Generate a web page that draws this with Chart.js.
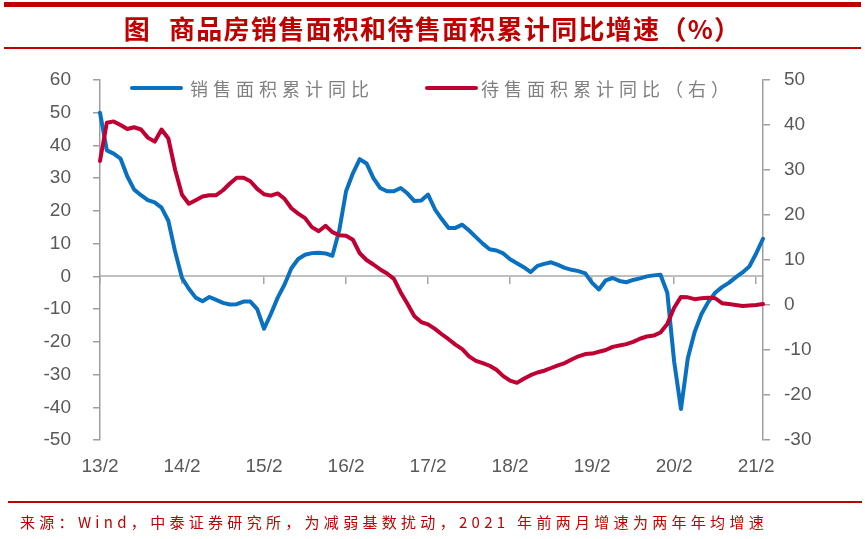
<!DOCTYPE html>
<html>
<head>
<meta charset="utf-8">
<script src="https://cdn.jsdelivr.net/npm/chart.js@4"></script>
<style>
  html, body { margin:0; padding:0; background:#fff; }
  #page { position:relative; width:865px; height:539px; overflow:hidden; background:#fff; }
  #chartBox { position:absolute; left:0; top:0; width:865px; height:539px; }
  .bar { position:absolute; background:#C00000; }
  #title { position:absolute; left:0; width:865px; top:11px; text-align:center; color:#C00000;
           font-family:"Noto Sans CJK SC", sans-serif; font-weight:bold; font-size:26px; letter-spacing:1.3px; line-height:34px; }
  #legend { position:absolute; top:76px; left:0; height:24px; font-family:"Noto Sans CJK SC", sans-serif; font-size:18px; color:#808080; letter-spacing:5px; }
  .lg { position:absolute; top:0; white-space:nowrap; line-height:24px; }
  .sw { position:absolute; height:4px; top:10px; border-radius:2px; }
  #footer { position:absolute; left:20px; top:511px; color:#C00000; font-family:"Noto Sans CJK SC", sans-serif; font-size:15px; letter-spacing:4.3px; white-space:nowrap; line-height:22px; }
</style>
</head>
<body>
<div id="page">
  <div id="chartBox"><canvas id="c"></canvas></div>
  <div class="bar" style="left:4px;top:2px;width:857px;height:5px;"></div>
  <div id="title">图<span style="display:inline-block;width:18px"></span>商品房销售面积和待售面积累计同比增速（%）</div>
  <div class="bar" style="left:4px;top:47px;width:857px;height:2px;"></div>
  <div id="legend"></div>
  <div class="bar" style="left:8px;top:501px;width:854px;height:1.5px;"></div>
  <div id="footer">来源：Wind，中泰证券研究所，为减弱基数扰动，2021 年前两月增速为两年年均增速</div>
</div>
<script>
// Monthly slots from 13/1 to 21/2 (98 slots); year ticks every 12 slots
const months = [];
for (let y = 13; y <= 21; y++) {
  for (let m = 1; m <= 12; m++) {
    if (y === 21 && m > 2) break;
    months.push(y + '/' + m);
  }
}
const tickLabels = ['13/2','14/2','15/2','16/2','17/2','18/2','19/2','20/2','21/2'];
const seriesNames = ['销售面积累计同比', '待售面积累计同比（右）'];

// 销售面积累计同比 (left axis, %)
const salesYoY = [
  50, 38.5, 37.5, 36, 30.5, 26.5, 24.8, 23.3, 22.6, 21, 17, 7.5,
  -0.5, -3.8, -6.5, -7.6, -6.3, -7.2, -8.1, -8.6, -8.5, -7.7, -7.7, -10,
  -16, -11.5, -6.5, -2.5, 2.5, 5.3, 6.6, 7.1, 7.2, 7.0, 6.3, 14,
  26, 31.5, 35.8, 34.5, 30, 27, 26, 26, 27, 25.3, 23, 23.2,
  25, 20.5, 17.5, 14.8, 14.8, 15.8, 14, 12, 10, 8.3, 7.9, 7.0,
  5.2, 4, 2.8, 1.3, 3.2, 3.8, 4.3, 3.5, 2.6, 2.0, 1.6, 0.9,
  -2, -4, -1.2, -0.5, -1.4, -1.8, -1.1, -0.6, 0, 0.3, 0.5, -5,
  -26, -40.5, -25, -17, -11.5, -7.8, -5, -3.3, -2, -0.3, 1.2, 3,
  7, 11.5
];
// 待售面积累计同比 (right axis, %)
const unsoldYoY = [
  32, 40.5, 40.8, 40, 39.1, 39.5, 39, 37.2, 36.3, 39, 37, 30,
  24.5, 22.5, 23.3, 24.1, 24.4, 24.4, 25.5, 27, 28.3, 28.3, 27.5, 25.8,
  24.6, 24.3, 24.8, 23.6, 21.5, 20.3, 19.3, 17.3, 16.4, 17.6, 16.2, 15.5,
  15.4, 14.5, 11.5, 10, 9, 7.9, 7, 5.8, 2.8, 0.2, -2.5, -3.8,
  -4.3, -5.3, -6.5, -7.6, -8.8, -9.8, -11.4, -12.4, -12.9, -13.5, -14.4, -15.8,
  -16.8, -17.3, -16.4, -15.6, -15, -14.6, -14, -13.4, -12.9, -12.1, -11.4, -10.9,
  -10.8, -10.4, -10, -9.3, -9, -8.7, -8.2, -7.5, -7, -6.8, -6.1, -4.2,
  -0.6, 1.8, 1.7, 1.3, 1.5, 1.6, 1.5, 0.4, 0.2, 0, -0.2, -0.1,
  0, 0.2
];

const BLUE = '#0A70C0';
const RED = '#C00032';
const AXIS = '#9E9E9E';
const TICKTXT = '#595959';
const tickFont = { family: '"Liberation Sans", Arial, sans-serif', size: 19 };

// HTML legend
const lg = document.getElementById('legend');
lg.innerHTML =
  '<div class="sw" style="left:130px;width:53px;background:' + BLUE + '"></div>' +
  '<div class="lg" style="left:190px">' + seriesNames[0] + '</div>' +
  '<div class="sw" style="left:425px;width:53px;background:' + RED + '"></div>' +
  '<div class="lg" style="left:481px">' + seriesNames[1] + '</div>';

new Chart(document.getElementById('c'), {
  type: 'line',
  data: {
    labels: months,
    datasets: [
      { label: seriesNames[0], data: salesYoY, yAxisID: 'y', xAxisID: 'x', borderColor: BLUE,
        borderWidth: 4, pointRadius: 0, tension: 0, borderJoinStyle: 'round', borderCapStyle: 'round', order: 2 },
      { label: seriesNames[1], data: unsoldYoY, yAxisID: 'y1', xAxisID: 'x', borderColor: RED,
        borderWidth: 4, pointRadius: 0, tension: 0, borderJoinStyle: 'round', borderCapStyle: 'round', order: 1 }
    ]
  },
  options: {
    responsive: true,
    maintainAspectRatio: false,
    animation: false,
    events: [],
    layout: { padding: { top: 80, left: 0, right: 0, bottom: 0 } },
    plugins: { legend: { display: false }, tooltip: { enabled: false }, title: { display: false } },
    scales: {
      x: {
        type: 'category',
        position: 'bottom',
        offset: false,
        grid: { display: false, drawTicks: false },
        border: { display: false },
        ticks: {
          autoSkip: false, maxRotation: 0, minRotation: 0, padding: 15,
          color: TICKTXT, font: tickFont,
          callback: function (v, i) { return i % 12 === 0 ? tickLabels[i / 12] : ''; }
        },
        afterFit: function (s) { s.height = 99; }
      },
      x2: {
        type: 'category',
        position: { y: 0 },
        offset: false,
        grid: {
          display: true, drawOnChartArea: false, drawTicks: true, tickLength: 7, lineWidth: 1.5,
          color: function (ctx) { return ctx.index % 12 === 0 ? '#A6A6A6' : 'rgba(0,0,0,0)'; }
        },
        border: { display: true, color: '#BFBFBF', width: 2 },
        ticks: { display: false, autoSkip: false },
        afterFit: function (s) { s.height = 0; }
      },
      y: {
        position: 'left',
        min: -50, max: 60,
        ticks: { stepSize: 10, color: TICKTXT, font: tickFont, padding: 22 },
        grid: { display: true, drawOnChartArea: false, drawTicks: true, tickLength: 7, color: AXIS, lineWidth: 1.5 },
        border: { display: true, color: AXIS, width: 1.5 },
        afterFit: function (s) { s.width = 100; }
      },
      y1: {
        position: 'right',
        min: -30, max: 50,
        ticks: { stepSize: 10, color: TICKTXT, font: tickFont, padding: 14 },
        grid: { display: true, drawOnChartArea: false, drawTicks: true, tickLength: 7, color: AXIS, lineWidth: 1.5 },
        border: { display: true, color: AXIS, width: 1.5 },
        afterFit: function (s) { s.width = 102; }
      }
    }
  }
});
</script>
</body>
</html>
